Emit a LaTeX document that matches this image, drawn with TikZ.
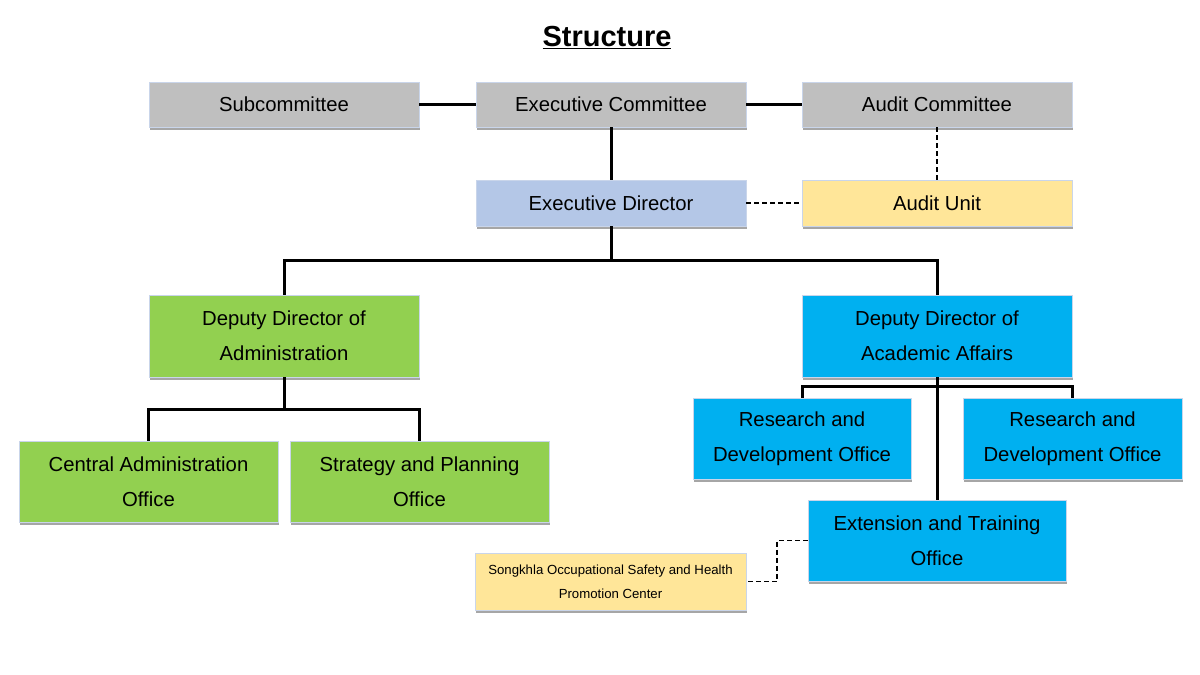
\documentclass[tikz,border=0pt]{standalone}
\usepackage{fontspec}
\setmainfont{Liberation Sans}
\usetikzlibrary{shadows}
\definecolor{cgray}{HTML}{BFBFBF}
\definecolor{cltblue}{HTML}{B4C7E7}
\definecolor{cyellow}{HTML}{FFE699}
\definecolor{cgreen}{HTML}{92D050}
\definecolor{cblue}{HTML}{00B0F0}
\definecolor{cborder}{HTML}{C9D5EA}
\tikzset{
  box/.style={draw=cborder, line width=0.8pt, inner sep=0pt, align=center,
    font=\fontsize{20.3}{35}\selectfont,
    drop shadow={shadow xshift=0.5pt, shadow yshift=-3pt, fill=black, opacity=0.35}},
  conn/.style={line width=3pt, black},
  dconn/.style={line width=1.1pt, black, dash pattern=on 5pt off 3pt},
}
\begin{document}
\begin{tikzpicture}[x=1pt,y=-1pt]
\useasboundingbox (0,0) rectangle (1200,675);
\fill[white] (0,0) rectangle (1200,675);
\node (title) at (607,38) {\fontsize{29}{32}\selectfont\bfseries\underline{Structure}};
\node[box, fill=cgray, minimum width=270pt, minimum height=45pt] (sub) at (284,104.5) {Subcommittee};
\node[box, fill=cgray, minimum width=270pt, minimum height=45pt] (ec) at (611,104.5) {Executive Committee};
\node[box, fill=cgray, minimum width=270pt, minimum height=45pt] (ac) at (937,104.5) {Audit Committee};
\node[box, fill=cltblue, minimum width=270pt, minimum height=46pt] (ed) at (611,203) {Executive Director};
\node[box, fill=cyellow, minimum width=270pt, minimum height=46pt] (au) at (937,203) {Audit Unit};
\node[box, fill=cgreen, minimum width=270pt, minimum height=82pt] (dda) at (284,336) {Deputy Director of\\Administration};
\node[box, fill=cblue, minimum width=270pt, minimum height=82pt] (ddaa) at (937,336) {Deputy Director of\\Academic Affairs};
\node[box, fill=cgreen, minimum width=259pt, minimum height=81pt] (cao) at (148.5,481.5) {Central Administration\\Office};
\node[box, fill=cgreen, minimum width=259pt, minimum height=81pt] (spo) at (419.5,481.5) {Strategy and Planning\\Office};
\node[box, fill=cblue, minimum width=218pt, minimum height=81pt] (rd1) at (802,438.5) {Research and\\Development Office};
\node[box, fill=cblue, minimum width=219pt, minimum height=81pt] (rd2) at (1072.5,438.5) {Research and\\Development Office};
\node[box, fill=cblue, minimum width=258pt, minimum height=81pt] (ext) at (937,540.5) {Extension and Training\\Office};
\node[box, fill=cyellow, minimum width=271pt, minimum height=57pt, font=\fontsize{13.2}{24}\selectfont] (sk) at (610.5,581.5) {Songkhla Occupational Safety and Health\\Promotion Center};
\coordinate (j1) at (611,260);
\coordinate (j2) at (284,409);
\coordinate (j3) at (937,386);
\coordinate (k) at (777,581.5);
\draw[conn] (sub.east) -- (ec.west);
\draw[conn] (ec.east) -- (ac.west);
\draw[conn] (ec) -- (ed);
\draw[dconn] (ac) -- (au);
\draw[dconn] (ed) -- (au);
\draw[conn] (ed.south) -- (j1);
\draw[conn] (dda.north) |- (j1) -| (ddaa.north);
\draw[conn] (dda.south) -- (j2);
\draw[conn] (cao.north) |- (j2) -| (spo.north);
\draw[conn] (ddaa.south) -- (ext.north);
\draw[conn] (rd1.north) |- (j3) -| (rd2.north);
\draw[dconn] (ext.west) -| (k) -- (sk.east);
\end{tikzpicture}
\end{document}
